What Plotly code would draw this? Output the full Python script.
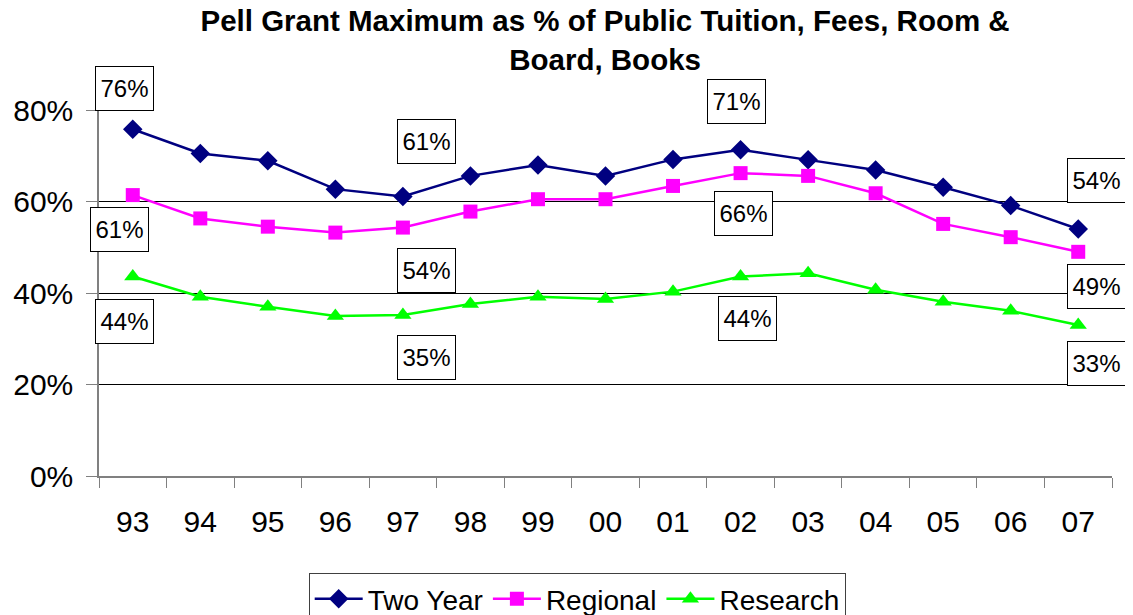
import plotly.graph_objects as go

years = ["93", "94", "95", "96", "97", "98", "99", "00", "01", "02", "03", "04", "05", "06", "07"]
two_year = [75.8, 70.5, 68.9, 62.7, 61.1, 65.6, 68.0, 65.6, 69.2, 71.3, 69.1, 66.9, 63.1, 59.1, 54.0]
regional = [61.4, 56.3, 54.5, 53.2, 54.3, 57.8, 60.5, 60.5, 63.4, 66.2, 65.6, 61.8, 55.1, 52.2, 49.0]
research = [43.6, 39.2, 37.0, 35.0, 35.2, 37.6, 39.2, 38.7, 40.3, 43.6, 44.3, 40.7, 38.1, 36.1, 33.0]
y_ticks = [0, 20, 40, 60, 80]
y_tick_text = [f"{v}%" for v in y_ticks]

FONT = "Arial, Liberation Sans, sans-serif"

fig = go.Figure()
fig.add_trace(go.Scatter(x=years, y=two_year, name="Two Year", mode="lines+markers",
                         line=dict(color="#000080", width=2.5),
                         marker=dict(symbol="diamond", size=15, color="#000080")))
fig.add_trace(go.Scatter(x=years, y=regional, name="Regional", mode="lines+markers",
                         line=dict(color="#FF00FF", width=2.5),
                         marker=dict(symbol="square", size=14, color="#FF00FF")))
fig.add_trace(go.Scatter(x=years, y=research, name="Research", mode="lines+markers",
                         line=dict(color="#00FF00", width=2.5),
                         marker=dict(symbol="triangle-up", size=15, color="#00FF00")))

# data labels: (series, category index, xshift, yshift)
label_specs = [
    (two_year, 0, -8, 41), (two_year, 4, 24, 55), (two_year, 9, -4, 48), (two_year, 14, 18, 48),
    (regional, 0, -13, -34), (regional, 4, 24, -43), (regional, 9, 3, -40), (regional, 14, 18, -35),
    (research, 0, -8, -45), (research, 4, 24, -43), (research, 9, 7, -42), (research, 14, 18, -38),
]
for series, i, dx, dy in label_specs:
    fig.add_annotation(x=i, y=series[i], text=f"{series[i]:.0f}%", showarrow=False,
                       xshift=dx, yshift=dy, font=dict(family=FONT, size=24, color="black"),
                       bgcolor="white", bordercolor="black", borderwidth=1,
                       width=55, height=41)

fig.update_layout(
    width=1133, height=615,
    margin=dict(l=91, r=29, t=102, b=147, autoexpand=False),
    paper_bgcolor="white", plot_bgcolor="white",
    font=dict(family=FONT, color="black"),
    title=dict(text="<b>Pell Grant Maximum as % of Public Tuition, Fees, Room &amp;<br>Board, Books</b>",
               x=0.527, xanchor="center", y=0.962, yanchor="top",
               font=dict(family=FONT, size=29.5, color="black")),
    showlegend=True,
    legend=dict(orientation="h", x=0.207, xanchor="left", y=-0.265, yanchor="top",
                font=dict(family=FONT, size=28, color="black"),
                bordercolor="#404040", borderwidth=1, bgcolor="white",
                itemwidth=48, tracegroupgap=0),
)
fig.update_xaxes(type="category", range=[-0.5, 14.5], tickson="boundaries",
                 ticks="outside", ticklen=10, tickcolor="#808080", tickwidth=1,
                 showline=True, linecolor="#808080", linewidth=1.5, showgrid=False,
                 tickfont=dict(family=FONT, size=30, color="black"), ticklabelstandoff=18)
fig.update_yaxes(range=[0, 80], tickmode="array", tickvals=y_ticks, ticktext=y_tick_text,
                 ticks="outside", ticklen=11, tickcolor="#808080", tickwidth=1,
                 showline=True, linecolor="#808080", linewidth=1.5,
                 showgrid=True, gridcolor="black", gridwidth=1, zeroline=False,
                 tickfont=dict(family=FONT, size=30, color="black"), ticklabelstandoff=7)

fig.write_html("out.html")
